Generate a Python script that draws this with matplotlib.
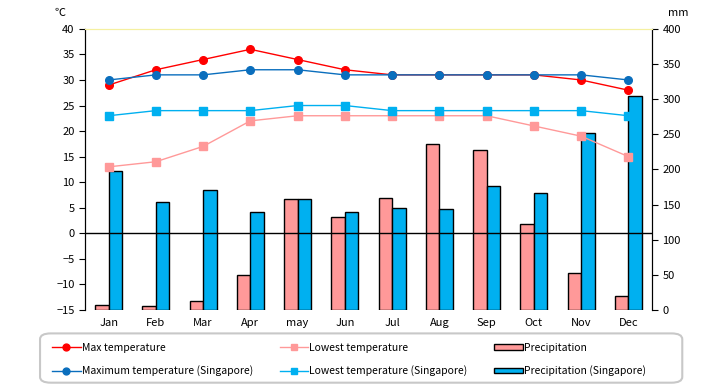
import matplotlib.pyplot as plt
from matplotlib.patches import FancyBboxPatch, Rectangle
from matplotlib.legend_handler import HandlerPatch

plt.rcParams['font.family'] = ['Noto Sans CJK JP', 'DejaVu Sans']

months = ['Jan', 'Feb', 'Mar', 'Apr', 'may', 'Jun', 'Jul', 'Aug', 'Sep', 'Oct', 'Nov', 'Dec']
max_temp = [29, 32, 34, 36, 34, 32, 31, 31, 31, 31, 30, 28]
low_temp = [13, 14, 17, 22, 23, 23, 23, 23, 23, 21, 19, 15]
sg_max_temp = [30, 31, 31, 32, 32, 31, 31, 31, 31, 31, 31, 30]
sg_low_temp = [23, 24, 24, 24, 25, 25, 24, 24, 24, 24, 24, 23]
precip = [7, 5, 12, 49, 158, 132, 160, 236, 228, 122, 52, 20]
sg_precip = [198, 153, 170, 140, 158, 139, 145, 143, 176, 166, 252, 304]

x = list(range(len(months)))
w = 0.285

fig = plt.figure(figsize=(7.2, 3.85), dpi=100)
ax = fig.add_axes([0.118, 0.195, 0.7876, 0.73])
ax2 = ax.twinx()
ax.set_zorder(ax2.get_zorder() + 1)
ax.patch.set_visible(False)
ax2.set_facecolor('#FFFFCC')

b1 = ax2.bar([i - w / 2 for i in x], precip, w, color='#FF9999', edgecolor='black', linewidth=1,
             label='Precipitation')
b2 = ax2.bar([i + w / 2 for i in x], sg_precip, w, color='#00B0F0', edgecolor='black', linewidth=1,
             label='Precipitation (Singapore)')

ax.axhline(0, color='black', linewidth=1)
ms = 5.5
l1, = ax.plot(x, max_temp, color='#FF0000', marker='o', markersize=ms, linewidth=1, label='Max temperature')
l3, = ax.plot(x, low_temp, color='#FF9999', marker='s', markersize=ms, linewidth=1, label='Lowest temperature')
l2, = ax.plot(x, sg_max_temp, color='#0A6EBD', marker='o', markersize=ms, linewidth=1,
              label='Maximum temperature (Singapore)')
l4, = ax.plot(x, sg_low_temp, color='#00B0F0', marker='s', markersize=ms, linewidth=1,
              label='Lowest temperature (Singapore)')

ax.set_xlim(-0.5, 11.5)
ax.set_ylim(-15, 40)
ax.set_yticks(range(-15, 41, 5))
ax2.set_ylim(0, 400)
ax2.set_yticks(range(0, 401, 50))
ax.set_xticks(x)
ax.set_xticklabels(months)
ax.tick_params(axis='x', length=0, pad=6, labelsize=8)
ax.tick_params(axis='y', length=4, labelsize=8, direction='out')
ax2.tick_params(axis='y', length=4, labelsize=8, direction='out')

for a in (ax, ax2):
    a.spines['top'].set_color('#F5F0A0')
    a.spines['bottom'].set_visible(False)
    a.spines['left'].set_color('black')
    a.spines['right'].set_color('black')

fig.text(0.083, 0.965, '℃', fontsize=8, ha='center', va='center')
fig.text(0.942, 0.965, 'mm', fontsize=8, ha='center', va='center')

box = FancyBboxPatch((0.0556, 0.006), 0.892, 0.128, boxstyle='round,pad=0,rounding_size=0.015',
                     transform=fig.transFigure, facecolor='white', edgecolor='#C8C8C8', linewidth=1.5)
fig.patches.append(box)


def flat_bar(legend, orig_handle, xdescent, ydescent, width, height, fontsize):
    return Rectangle((-xdescent, height / 2 - 2), width, 4)


p1 = b1.patches[0]
p2 = b2.patches[0]
leg = fig.legend([l1, l2, l3, l4, p1, p2],
                 ['Max temperature', 'Maximum temperature (Singapore)', 'Lowest temperature',
                  'Lowest temperature (Singapore)', 'Precipitation', 'Precipitation (Singapore)'],
                 ncol=3, loc='center left', bbox_to_anchor=(0.067, 0.066), frameon=False,
                 fontsize=7.5, handlelength=2.7, handletextpad=0.1, columnspacing=2.6, labelspacing=1.2,
                 borderaxespad=0, markerscale=0.9,
                 handler_map={p1: HandlerPatch(patch_func=flat_bar), p2: HandlerPatch(patch_func=flat_bar)})

fig.savefig('out.png', dpi=100)
